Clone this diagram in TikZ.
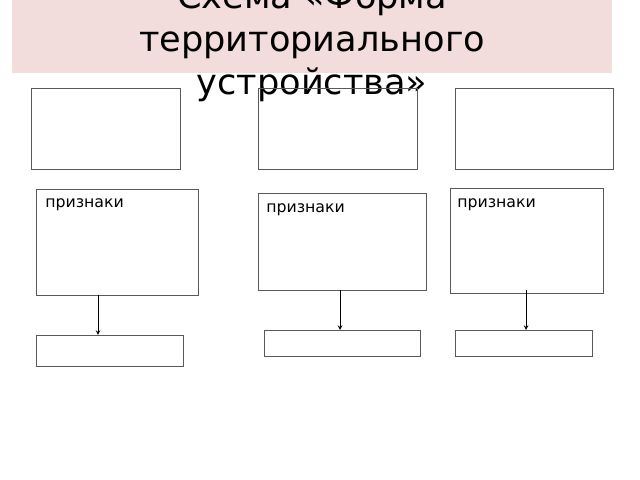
\documentclass[tikz,border=0pt]{standalone}
\usepackage{fontspec}
\setmainfont{DejaVu Sans}
\usetikzlibrary{arrows}
\definecolor{banner}{RGB}{242,220,220}
\begin{document}
\begin{tikzpicture}[
x=0.025cm, y=-0.025cm,
>=stealth,
line/.style={draw,->,black,line width=0.5pt},
frame/.style={draw=black!65,line width=0.7pt,inner sep=0pt,outer sep=0pt},
head/.style={fill=banner,inner sep=0pt,outer sep=0pt,minimum width=15cm,minimum height=1.825cm},
sign/.style={inner sep=0pt,font=\fontsize{11.2}{13}\selectfont},
]
\useasboundingbox (0,0) rectangle (640,480);

%title
\node[head] (banner) at (312,36.5) {};
\node[align=center,anchor=base,inner sep=0pt,font=\fontsize{25}{30.6}\selectfont] (title) at (312,95)
	{Схема «Форма\\территориального\\устройства»};

\node[frame,minimum width=3.7cm,minimum height=2cm] (form1) at (106,129) {};
\node[frame,minimum width=3.95cm,minimum height=2cm] (form2) at (338,129) {};
\node[frame,minimum width=3.925cm,minimum height=2cm] (form3) at (534.5,129) {};

\node[frame,minimum width=4.025cm,minimum height=2.625cm] (sign1) at (117.5,242.5) {};
	\node[sign,anchor=base west] (txt1) at ([shift={(8,18)}]sign1.north west) {признаки};
\node[frame,minimum width=4.175cm,minimum height=2.4cm] (sign2) at (342.5,242) {};
	\node[sign,anchor=base west] (txt2) at ([shift={(7,19)}]sign2.north west) {признаки};
\node[frame,minimum width=3.8cm,minimum height=2.6cm] (sign3) at (527,241) {};
	\node[sign,anchor=base west] (txt3) at ([shift={(6,19)}]sign3.north west) {признаки};

\node[frame,minimum width=3.65cm,minimum height=0.775cm] (res1) at (110,350.5) {};
\node[frame,minimum width=3.875cm,minimum height=0.65cm] (res2) at (342.5,343) {};
\node[frame,minimum width=3.4cm,minimum height=0.65cm] (res3) at (524,343) {};

%arrows
\path[line] (sign1.south -| 98,0) -- (res1.north -| 98,0);
\path[line] (sign2.south -| 340,0) -- (res2.north -| 340,0);
\path[line] ([yshift=0.075cm]sign3.south -| 526,0) -- (res3.north -| 526,0);

\end{tikzpicture}
\end{document}
